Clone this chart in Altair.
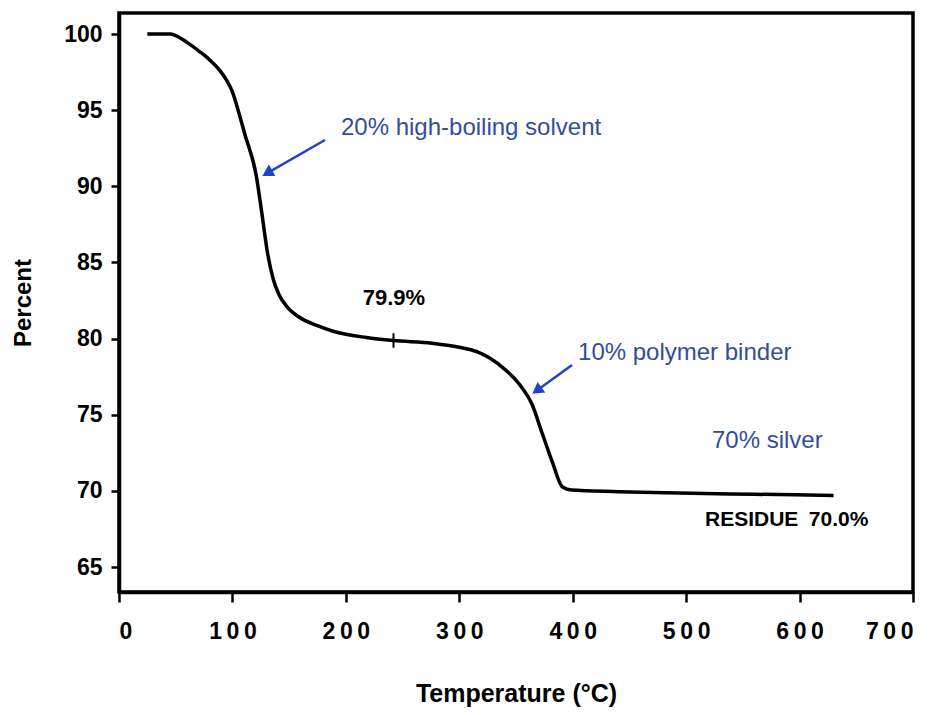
import altair as alt
import pandas as pd

# TGA curve (temperature in °C, weight percent)
temps = [25, 45, 50, 60, 71, 80, 89, 95, 100, 105, 111, 121, 126, 131, 136, 141, 148, 159, 175, 188,
         218, 242, 276, 291, 305, 317, 335, 353, 364, 373, 382, 391, 399, 440, 482, 560, 630]
percents = [100.0, 100.0, 99.9, 99.45, 98.85, 98.3, 97.6, 96.95, 96.2, 95.0, 93.4, 90.7, 88.2, 85.6,
            83.9, 82.9, 82.1, 81.4, 80.85, 80.5, 80.07, 79.87, 79.7, 79.55, 79.35, 79.1, 78.3, 77.0,
            75.7, 73.8, 71.9, 70.25, 70.05, 69.95, 69.87, 69.78, 69.7]

x_ticks = [0, 100, 200, 300, 400, 500, 600, 700]
y_ticks = [65, 70, 75, 80, 85, 90, 95, 100]

# small tick mark on the curve at the plateau
mark_T = [242]
mark_P = [79.4]
mark_P2 = [80.35]

# annotations
blue_labels = ["20% high-boiling solvent", "10% polymer binder", "70% silver"]
blue_T = [195.7, 404.7, 522.8]
blue_P = [93.83, 79.05, 73.28]

black_labels = ["79.9%", "RESIDUE\u200270.0%"]
black_T = [242.4, 516.6]
black_P = [82.67, 68.09]
black_align = ["center", "left"]

# arrows: tail -> head
arrow_T = [181.6, 399.4]
arrow_P = [93.04, 78.27]
arrow_T2 = [130.7, 368.4]
arrow_P2 = [90.87, 76.59]
arrow_angle = [240, 234]

FONT = "Liberation Sans"
BLUE_TXT = "#2f4e9e"
BLUE_ARR = "#1f44c4"

xscale = alt.Scale(domain=[0, 700], nice=False, zero=False)
yscale = alt.Scale(domain=[63.36, 101.38], nice=False, zero=False)

curve_df = pd.DataFrame({"T": temps, "P": percents})

xenc = alt.X("T:Q", scale=xscale,
             axis=alt.Axis(values=x_ticks, title="Temperature (°C)", grid=False,
                           tickSize=10, labelPadding=18, titlePadding=38, titleFontSize=25,
                           labelExpr="join(split(datum.label, ''), '\u2009')"))
yenc = alt.Y("P:Q", scale=yscale,
             axis=alt.Axis(values=y_ticks, title="Percent", grid=False,
                           tickSize=8, labelPadding=9, titlePadding=28, titleFontSize=24))

curve = alt.Chart(curve_df).mark_line(color="black", strokeWidth=3.5,
                                       interpolate="monotone").encode(x=xenc, y=yenc)

mark_df = pd.DataFrame({"T": mark_T, "P": mark_P, "P2": mark_P2})
tickmark = alt.Chart(mark_df).mark_rule(color="black", strokeWidth=2).encode(
    x=alt.X("T:Q", scale=xscale), y=alt.Y("P:Q", scale=yscale), y2="P2:Q")

blue_df = pd.DataFrame({"T": blue_T, "P": blue_P, "label": blue_labels})
blue_text = alt.Chart(blue_df).mark_text(align="left", baseline="middle", font=FONT,
                                         fontSize=24, color=BLUE_TXT).encode(
    x=alt.X("T:Q", scale=xscale), y=alt.Y("P:Q", scale=yscale), text="label:N")

black_df = pd.DataFrame({"T": black_T, "P": black_P, "label": black_labels, "al": black_align})
black_text_c = alt.Chart(black_df[black_df["al"] == "center"]).mark_text(
    align="center", baseline="middle", font=FONT, fontSize=22, fontWeight="bold",
    color="black").encode(x=alt.X("T:Q", scale=xscale), y=alt.Y("P:Q", scale=yscale),
                          text="label:N")
black_text_l = alt.Chart(black_df[black_df["al"] == "left"]).mark_text(
    align="left", baseline="middle", font=FONT, fontSize=21, fontWeight="bold",
    color="black").encode(x=alt.X("T:Q", scale=xscale), y=alt.Y("P:Q", scale=yscale),
                          text="label:N")

arrow_df = pd.DataFrame({"T": arrow_T, "P": arrow_P, "T2": arrow_T2, "P2": arrow_P2,
                         "ang": arrow_angle})
arrow_lines = alt.Chart(arrow_df).mark_rule(color=BLUE_ARR, strokeWidth=2.5).encode(
    x=alt.X("T:Q", scale=xscale), y=alt.Y("P:Q", scale=yscale), x2="T2:Q", y2="P2:Q")
arrow_heads = alt.Chart(arrow_df).mark_point(shape="triangle-up", filled=True, size=170,
                                             color=BLUE_ARR, opacity=1).encode(
    x=alt.X("T2:Q", scale=xscale), y=alt.Y("P2:Q", scale=yscale),
    angle=alt.Angle("ang:Q", scale=None))

chart = alt.layer(curve, tickmark, arrow_lines, arrow_heads, blue_text,
                  black_text_c, black_text_l).properties(
    width=794, height=579,
    background="white",
    autosize=alt.AutoSizeParams(type="none"),
    padding={"left": 111, "top": 5, "right": 26, "bottom": 115},
).configure_view(stroke="black", strokeWidth=3.5).configure_axis(
    labelFont=FONT, labelFontSize=23, labelFontWeight="bold", labelColor="black",
    titleFont=FONT, titleFontWeight="bold", titleColor="black",
    domainColor="black", domainWidth=3.5, tickColor="black", tickWidth=2.5,
)

chart.save("out.html", embed_options={"renderer": "svg", "actions": False})
